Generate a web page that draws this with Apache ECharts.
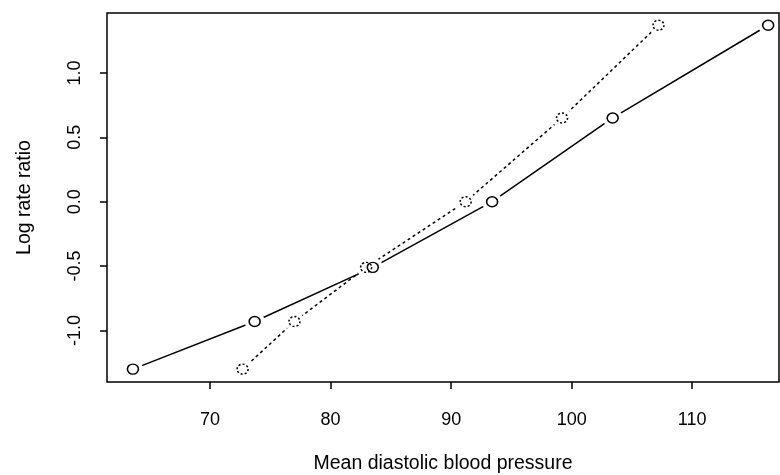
<!DOCTYPE html>
<html>
<head>
<meta charset="utf-8">
<script src="https://cdn.jsdelivr.net/npm/echarts@6/dist/echarts.min.js"></script>
<style>
  html, body { margin: 0; padding: 0; background: #fff; }
  #chart { width: 780px; height: 475px; }
</style>
</head>
<body>
<div id="chart"></div>
<script>
// values
const logRateRatio = [-1.30, -0.93, -0.51, 0.0, 0.65, 1.37];
const bpSolid = [63.6, 73.7, 83.5, 93.4, 103.4, 116.3];
const bpDotted = [72.7, 77.0, 82.95, 91.2, 99.2, 107.2];
const xTicks = [70, 80, 90, 100, 110];
const yTicks = [-1.0, -0.5, 0.0, 0.5, 1.0];

const font = '"Liberation Sans", Arial, sans-serif';

function pairs(xs) {
    return xs.map(function (x, i) {
        return [x, logRateRatio[i]];
    });
}

function lineSeries(xs, dash) {
    return {
        type: 'line',
        data: pairs(xs),
        z: 2,
        showSymbol: false,
        lineStyle: { color: '#000', width: 1.5, type: dash },
        silent: true,
        animation: false
    };
}

// white discs so the lines stop short of the circles (R type="b")
function maskSeries(xs) {
    return {
        type: 'scatter',
        data: pairs(xs),
        z: 3,
        symbol: 'circle',
        symbolSize: 20,
        itemStyle: { color: '#fff', opacity: 1 },
        silent: true,
        animation: false
    };
}

function pointSeries(xs, border) {
    return {
        type: 'scatter',
        data: pairs(xs),
        z: 4,
        symbol: 'circle',
        symbolSize: [11, 10],
        itemStyle: { color: 'rgba(0,0,0,0)', borderColor: '#000', borderWidth: 1.5, borderType: border, opacity: 1 },
        silent: true,
        animation: false
    };
}

const chart = echarts.init(document.getElementById('chart'));
chart.setOption({
    backgroundColor: '#fff',
    grid: {
        left: 107, top: 13, right: 1, bottom: 93,
        outerBoundsMode: 'none',
        containLabel: false,
        show: true, borderColor: '#000', borderWidth: 1.5, backgroundColor: 'transparent'
    },
    xAxis: {
        type: 'value',
        min: 61.45, max: 117.2,
        name: 'Mean diastolic blood pressure',
        nameLocation: 'middle',
        nameGap: 72,
        nameTextStyle: { fontFamily: font, fontSize: 19.5, color: '#000' },
        splitLine: { show: false },
        axisLine: { show: false, onZero: false },
        axisTick: { show: true, length: 7, lineStyle: { color: '#000', width: 1.5 }, customValues: xTicks },
        axisLabel: { fontFamily: font, fontSize: 18, color: '#000', margin: 29, customValues: xTicks }
    },
    yAxis: {
        type: 'value',
        min: -1.40, max: 1.465,
        name: 'Log rate ratio',
        nameLocation: 'middle',
        nameGap: 72,
        nameTextStyle: { fontFamily: font, fontSize: 19.5, color: '#000' },
        splitLine: { show: false },
        axisLine: { show: false, onZero: false },
        axisTick: { show: true, length: 7, lineStyle: { color: '#000', width: 1.5 }, customValues: yTicks },
        axisLabel: {
            fontFamily: font, fontSize: 18, color: '#000', margin: 23, rotate: 90,
            customValues: yTicks,
            formatter: function (v) { return v.toFixed(1); }
        }
    },
    series: [
        lineSeries(bpSolid, 'solid'),
        lineSeries(bpDotted, [3, 3]),
        maskSeries(bpSolid),
        maskSeries(bpDotted),
        pointSeries(bpSolid, 'solid'),
        pointSeries(bpDotted, [2, 2])
    ]
});
</script>
</body>
</html>
